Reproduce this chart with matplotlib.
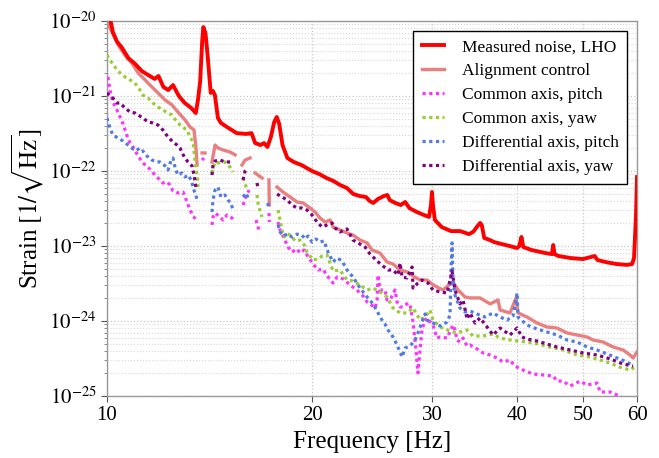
import numpy as np
import matplotlib
matplotlib.use("Agg")
import matplotlib.pyplot as plt
from matplotlib.ticker import FixedLocator, FixedFormatter, NullLocator, NullFormatter

plt.rcParams['font.family'] = ['Liberation Serif', 'DejaVu Serif']
plt.rcParams['mathtext.fontset'] = 'stix'

G = None  # gap in a trace

# ---------------- data ----------------
freq_lho = [10.0, 10.1, 10.2, 10.35, 10.5, 10.75, 11.0, 11.25, 11.5, 11.75, 11.9, 12.1, 12.3, 12.5, 12.75,
            13.0, 13.3, 13.5, 13.6, 13.7, 13.8, 13.85, 13.95, 14.05, 14.2, 14.3, 14.4, 14.55, 14.7, 15.0,
            15.5, 16.0, 16.3, 16.5, 16.8, 17.0, 17.2, 17.4, 17.6, 17.75, 17.9, 18.1, 18.4, 18.8, 19.3,
            20.0, 20.5, 21.0, 21.5, 22.0, 22.5, 23.0, 23.5, 24.0, 24.3, 24.6, 25.0, 25.5, 25.8, 26.0,
            26.5, 27.0, 27.4, 27.8, 28.5, 29.2, 29.7, 29.9, 30.0, 30.1, 30.3, 31.0, 32.0, 33.0, 34.0,
            34.5, 35.0, 35.3, 35.5, 35.8, 36.5, 37.0, 38.0, 39.0, 40.0, 40.3, 40.6, 40.85, 42.0, 44.0,
            45.0, 45.2, 45.4, 46.0, 48.0, 50.0, 52.0, 52.5, 54.0, 56.0, 58.0, 59.0, 59.4, 59.8, 60.0]
asd_lho = [1.32e-20, 1.1e-20, 7.1e-21, 5.25e-21, 4.5e-21, 3.2e-21, 2.67e-21, 2.15e-21, 1.9e-21, 1.69e-21,
           1.85e-21, 1.32e-21, 1.2e-21, 1.4e-21, 1.0e-21, 8.1e-22, 6.9e-22, 5.93e-22, 8.84e-22, 1.54e-21,
           5.58e-21, 8.3e-21, 6.9e-21, 3.5e-21, 1.1e-21, 1.17e-21, 1.03e-21, 5.1e-22, 4.37e-22, 3.86e-22,
           3.2e-22, 3.12e-22, 3.2e-22, 2.36e-22, 2.22e-22, 2.36e-22, 2.09e-22, 2.84e-22, 4.5e-22, 5.25e-22,
           4.24e-22, 2.22e-22, 1.49e-22, 1.32e-22, 1.2e-22, 1.0e-22, 9.1e-23, 8.06e-23, 7.36e-23, 6.5e-23,
           5.93e-23, 4.93e-23, 4.64e-23, 4.5e-23, 3.98e-23, 3.75e-23, 4.24e-23, 4.64e-23, 4.79e-23, 4.1e-23,
           3.75e-23, 3.52e-23, 3.86e-23, 3.2e-23, 2.84e-23, 2.59e-23, 2.44e-23, 3.52e-23, 5.25e-23, 3.52e-23,
           2.22e-23, 1.79e-23, 1.58e-23, 1.58e-23, 1.44e-23, 1.55e-23, 1.85e-23, 2.03e-23, 1.9e-23, 1.28e-23,
           1.2e-23, 1.13e-23, 1.06e-23, 1.0e-23, 9.4e-24, 1.0e-23, 1.32e-23, 9.7e-24, 8.84e-24, 8.06e-24,
           7.8e-24, 1.03e-23, 7.8e-24, 7.36e-24, 6.9e-24, 6.7e-24, 7.36e-24, 6.5e-24, 6.1e-24, 5.75e-24,
           5.6e-24, 5.75e-24, 6.9e-24, 2.6e-23, 8.3e-23]

freq_align = [10.0, 10.17, 10.34, 10.45, 10.70, 10.88, 11.11, 11.37, 11.64, 11.88, 12.17, 12.46, 12.71,
              13.02, 13.24, 13.42, 13.51, 13.56, 13.7, 13.79, 13.93, 14.1, 14.26, 14.41, 14.55, 14.80,
              15.16, 15.42, 15.6, 15.78, 15.95, 16.22, 16.4, 16.50, 16.66, 16.89, 17.1, 17.29, 17.31,
              17.5, 17.77, 18.13, 18.57, 19.01, 19.40, 19.87, 20.20, 20.55, 20.90, 21.26, 21.47, 21.98,
              22.51, 22.97, 23.52, 24.09, 24.50, 25.17, 25.77, 26.30, 26.93, 27.58, 28.14, 28.81, 29.50,
              30.00, 30.51, 31.14, 31.89, 32.21, 32.76, 33.55, 34.12, 35.29, 36.51, 37.51, 37.76, 39.06,
              39.86, 40.13, 41.37, 42.79, 44.26, 45.78, 47.36, 49.00, 50.68, 51.72, 53.50, 55.34, 57.24,
              58.61, 59.20, 60.0]
asd_align = [9.70e-21, 7.14e-21, 5.25e-21, 4.37e-21, 3.21e-21, 2.75e-21, 2.03e-21, 1.64e-21, 1.32e-21,
             1.10e-21, 8.84e-22, 7.59e-22, 6.12e-22, 4.79e-22, 3.86e-22, 3.52e-22, 2.03e-22, 1.20e-22, G,
             1.74e-22, 1.74e-22, G, 1.32e-22, 2.22e-22, 2.03e-22, 1.91e-22, 1.79e-22, 1.64e-22, G,
             1.20e-22, 1.40e-22, 1.49e-22, G, 9.40e-23, 8.84e-23, 8.06e-23, G, 7.59e-23, 3.52e-23, G,
             6.12e-23, 5.25e-23, 4.50e-23, 3.86e-23, 3.75e-23, 3.21e-23, 2.84e-23, 2.36e-23, 2.09e-23,
             2.22e-23, 1.79e-23, 1.64e-23, 1.49e-23, 1.40e-23, 1.20e-23, 1.10e-23, 8.84e-24, 8.06e-24,
             6.12e-24, 5.75e-24, 4.79e-24, 4.50e-24, 3.98e-24, 3.52e-24, 3.52e-24, 3.12e-24, 2.84e-24,
             2.59e-24, 3.12e-24, 3.31e-24, 2.59e-24, 2.09e-24, 2.03e-24, 2.03e-24, 1.69e-24, 1.91e-24,
             1.40e-24, 1.28e-24, 2.03e-24, 1.28e-24, 1.13e-24, 9.40e-25, 8.32e-25, 8.06e-25, 6.92e-25,
             6.51e-25, 6.12e-25, 5.58e-25, 5.25e-25, 4.50e-25, 4.11e-25, 3.52e-25, 3.21e-25, 3.86e-25]

freq_cp = [10.03, 10.10, 10.20, 10.34, 10.45, 10.56, 10.70, 10.81, 10.92, 11.11, 11.29, 11.56, 11.76,
           11.96, 12.08, 12.25, 12.37, 12.50, 12.71, 12.93, 13.11, 13.24, 13.38, 13.56, 13.7, 13.79,
           13.88, 14.1, 14.26, 14.31, 14.41, 14.65, 14.80, 15.00, 15.26, 15.36, 15.6, 15.84, 16.00,
           16.17, 16.4, 16.55, 16.66, 16.78, 17.0, 17.29, 17.31, 17.6, 17.83, 17.95, 18.13, 18.44,
           18.69, 19.01, 19.20, 19.47, 19.66, 20.07, 20.42, 20.76, 21.04, 21.26, 21.47, 21.77, 22.22,
           22.75, 23.28, 23.77, 24.09, 24.33, 24.75, 24.92, 25.00, 25.17, 25.59, 25.77, 26.04, 26.48,
           26.66, 26.93, 27.21, 27.67, 27.86, 28.14, 28.42, 28.61, 28.81, 29.00, 29.30, 29.50, 30.10,
           30.51, 30.83, 31.57, 32.21, 32.43, 32.65, 32.98, 33.32, 33.78, 34.12, 34.93, 35.65, 36.51,
           37.38, 38.15, 39.06, 39.70, 40.81, 42.22, 43.68, 45.19, 45.78, 46.74, 47.86, 49.50, 50.68,
           52.42, 52.96, 54.80, 56.11, 57.24]
asd_cp = [1.79e-21, 1.20e-21, 8.32e-22, 6.51e-22, 5.25e-22, 4.24e-22, 2.93e-22, 2.36e-22, 2.09e-22,
          1.58e-22, 1.28e-22, 1.06e-22, 8.84e-23, 7.59e-23, 6.92e-23, 7.14e-23, 6.51e-23, 5.41e-23,
          5.09e-23, 5.25e-23, 3.86e-23, 3.02e-23, 2.51e-23, 2.15e-23, G, 1.40e-22, 1.49e-22, G,
          1.91e-23, 2.44e-23, 2.75e-23, 2.44e-23, 2.22e-23, 2.59e-23, 2.36e-23, 2.15e-23, G, 3.52e-23,
          4.64e-23, 5.58e-23, G, 2.22e-23, 1.79e-23, 1.54e-23, G, 2.75e-23, 2.09e-23, G, 2.09e-23,
          1.64e-23, 1.36e-23, 9.70e-24, 8.32e-24, 9.12e-24, 8.06e-24, 8.84e-24, 7.59e-24, 5.75e-24,
          4.79e-24, 4.93e-24, 3.98e-24, 3.63e-24, 3.21e-24, 3.86e-24, 3.63e-24, 3.02e-24, 2.59e-24,
          2.15e-24, 1.79e-24, 1.69e-24, 1.49e-24, 1.91e-24, 4.11e-24, 2.59e-24, 2.59e-24, 1.91e-24,
          1.91e-24, 2.59e-24, 1.79e-24, 1.54e-24, 1.54e-24, 1.74e-24, 1.64e-24, 9.70e-25, 4.11e-25,
          2.03e-25, 4.11e-25, 7.59e-25, 1.03e-24, 1.10e-24, 8.84e-25, 5.93e-25, 6.12e-25, 5.93e-25,
          8.84e-25, 7.59e-25, 5.58e-25, 5.25e-25, 5.93e-25, 4.64e-25, 4.79e-25, 4.24e-25, 3.75e-25,
          3.52e-25, 3.21e-25, 2.84e-25, 3.02e-25, 2.51e-25, 2.22e-25, 1.96e-25, 1.91e-25, 1.85e-25,
          1.58e-25, 1.58e-25, 1.36e-25, 1.58e-25, 1.40e-25, 1.49e-25, 1.13e-25, 1.13e-25, 1.03e-25,
          9.4e-26]

freq_cy = [10.0, 10.10, 10.27, 10.45, 10.63, 10.81, 10.99, 11.18, 11.29, 11.49, 11.68, 11.88, 12.08,
           12.29, 12.46, 12.67, 12.89, 13.11, 13.24, 13.38, 13.47, 13.56, 13.60, 13.9, 14.26, 14.31,
           14.41, 14.55, 14.90, 15.16, 15.31, 15.6, 15.84, 15.95, 16.06, 16.3, 16.60, 16.66, 16.78,
           16.89, 17.4, 17.83, 17.95, 18.07, 18.20, 18.39, 18.69, 18.88, 19.20, 19.53, 19.66, 20.07,
           20.42, 20.69, 21.04, 21.26, 21.47, 21.98, 22.51, 22.97, 23.52, 24.09, 24.58, 25.17, 25.77,
           26.30, 26.93, 27.58, 28.14, 28.81, 29.30, 29.80, 30.10, 30.83, 31.89, 32.65, 33.32, 33.78,
           34.47, 35.65, 36.88, 37.76, 39.06, 40.13, 41.37, 43.08, 44.57, 46.74, 49.00, 51.20, 52.96,
           54.80, 56.47, 58.61, 59.60]
asd_cy = [3.52e-21, 3.02e-21, 2.44e-21, 2.03e-21, 1.79e-21, 1.64e-21, 1.49e-21, 1.20e-21, 1.03e-21,
          9.40e-22, 8.06e-22, 7.14e-22, 6.51e-22, 5.93e-22, 5.58e-22, 4.50e-22, 3.86e-22, 3.52e-22,
          2.84e-22, 2.44e-22, 1.32e-22, 8.84e-23, 6.12e-23, G, 9.40e-23, 1.10e-22, 1.32e-22, 1.28e-22,
          1.32e-22, 1.13e-22, 9.70e-23, G, 8.06e-23, 6.71e-23, 5.58e-23, G, 4.79e-23, 3.75e-23,
          2.93e-23, 2.44e-23, G, 3.02e-23, 2.22e-23, 1.64e-23, 1.32e-23, 1.49e-23, 1.32e-23, 1.17e-23,
          1.20e-23, 1.00e-23, 8.32e-24, 6.51e-24, 6.71e-24, 7.36e-24, 7.59e-24, 5.93e-24, 4.64e-24,
          4.79e-24, 3.52e-24, 3.41e-24, 3.02e-24, 2.59e-24, 2.75e-24, 2.44e-24, 2.09e-24, 1.49e-24,
          1.28e-24, 1.28e-24, 1.49e-24, 1.03e-24, 1.13e-24, 1.40e-24, 1.03e-24, 8.32e-25, 7.36e-25,
          6.92e-25, 7.36e-25, 7.59e-25, 6.31e-25, 6.31e-25, 6.71e-25, 5.93e-25, 5.58e-25, 5.41e-25,
          5.25e-25, 4.93e-25, 4.50e-25, 4.11e-25, 3.52e-25, 3.31e-25, 3.02e-25, 2.75e-25, 2.44e-25,
          2.22e-25, 2.44e-25]

freq_dp = [10.0, 10.10, 10.20, 10.38, 10.56, 10.74, 10.92, 11.07, 11.18, 11.29, 11.45, 11.64, 11.84,
           11.96, 12.17, 12.29, 12.42, 12.50, 12.59, 12.71, 12.89, 13.02, 13.15, 13.29, 13.38, 13.47,
           13.56, 13.9, 14.26, 14.31, 14.41, 14.55, 14.70, 14.90, 15.05, 15.20, 15.31, 15.6, 15.84,
           16.00, 16.11, 16.7, 17.23, 17.25, 17.5, 17.83, 17.95, 18.13, 18.39, 18.69, 19.01, 19.33,
           19.53, 19.73, 20.00, 20.27, 20.55, 20.83, 21.11, 21.47, 21.77, 22.14, 22.51, 22.97, 23.52,
           24.09, 24.58, 25.00, 25.33, 25.59, 25.86, 26.30, 26.66, 26.93, 27.12, 27.40, 27.86, 28.33,
           28.61, 29.00, 29.30, 29.60, 30.10, 30.83, 31.57, 31.89, 32.00, 32.11, 32.21, 32.43, 32.98,
           33.55, 34.12, 34.93, 35.89, 36.88, 37.76, 38.67, 39.46, 39.86, 40.00, 40.13, 41.37, 42.79,
           44.26, 45.78, 47.36, 49.00, 50.68, 52.42, 54.24, 56.11, 58.02, 59.20]
asd_dp = [5.09e-22, 3.75e-22, 3.02e-22, 2.75e-22, 2.51e-22, 2.22e-22, 1.96e-22, 2.03e-22, 1.79e-22,
          1.85e-22, 1.58e-22, 1.40e-22, 1.32e-22, 1.32e-22, 1.17e-22, 1.03e-22, 1.40e-22, 1.49e-22,
          1.10e-22, 8.84e-23, 9.40e-23, 8.32e-23, 8.84e-23, 7.59e-23, 6.12e-23, 4.93e-23, 4.24e-23, G,
          2.84e-23, 4.11e-23, 5.58e-23, 6.12e-23, 4.50e-23, 4.79e-23, 4.11e-23, 3.75e-23, 3.02e-23, G,
          4.50e-23, 5.09e-23, 4.37e-23, G, 3.75e-23, 3.31e-23, G, 1.91e-23, 1.54e-23, 1.36e-23,
          1.44e-23, 1.32e-23, 1.44e-23, 1.40e-23, 1.24e-23, 1.36e-23, 1.13e-23, 1.24e-23, 1.13e-23,
          1.17e-23, 8.32e-24, 6.12e-24, 6.92e-24, 6.31e-24, 4.79e-24, 3.86e-24, 2.75e-24, 2.09e-24,
          1.69e-24, 1.28e-24, 1.03e-24, 9.12e-25, 7.59e-25, 6.12e-25, 4.79e-25, 3.86e-25, 3.31e-25,
          4.37e-25, 4.64e-25, 5.58e-25, 6.92e-25, 9.70e-25, 1.24e-24, 1.00e-24, 9.40e-25, 8.58e-25,
          9.70e-25, 1.20e-24, 4.79e-24, 1.10e-23, 3.52e-24, 2.22e-24, 1.49e-24, 1.32e-24, 1.36e-24,
          1.24e-24, 1.13e-24, 1.28e-24, 1.13e-24, 1.03e-24, 1.17e-24, 1.91e-24, 2.36e-24, 1.13e-24,
          8.84e-25, 7.82e-25, 7.14e-25, 6.51e-25, 5.58e-25, 5.25e-25, 4.50e-25, 4.11e-25, 3.63e-25,
          3.21e-25, 2.84e-25, 2.51e-25]

freq_dy = [10.0, 10.10, 10.20, 10.34, 10.45, 10.63, 10.81, 10.99, 11.11, 11.29, 11.49, 11.68, 11.88,
           12.08, 12.29, 12.50, 12.67, 12.80, 12.89, 13.02, 13.15, 13.33, 13.42, 13.47, 13.51, 13.9,
           14.26, 14.31, 14.41, 14.65, 14.90, 15.16, 15.5, 15.84, 15.95, 16.06, 16.3, 16.60, 16.66,
           17.2, 17.77, 18.07, 18.39, 18.69, 19.01, 19.33, 19.66, 20.00, 20.34, 20.69, 21.04, 21.40,
           21.62, 21.98, 22.51, 22.97, 23.52, 23.93, 24.33, 24.92, 25.42, 25.86, 26.30, 26.75, 26.93,
           27.12, 27.58, 28.05, 28.14, 28.61, 29.00, 29.60, 30.10, 30.83, 31.57, 32.11, 32.43, 32.98,
           33.32, 33.78, 34.12, 34.70, 35.29, 36.14, 36.88, 37.76, 39.06, 40.00, 40.67, 41.37, 42.79,
           44.26, 45.78, 47.86, 50.00, 52.42, 54.80, 57.24, 59.20]
asd_dy = [1.10e-21, 1.00e-21, 9.40e-22, 8.06e-22, 8.06e-22, 6.92e-22, 6.12e-22, 5.93e-22, 5.58e-22,
          5.09e-22, 4.50e-22, 4.37e-22, 4.11e-22, 3.52e-22, 2.84e-22, 2.44e-22, 2.22e-22, 2.03e-22,
          1.74e-22, 1.49e-22, 1.32e-22, 1.17e-22, 8.84e-23, 7.14e-23, 5.93e-23, G, 8.84e-23, 1.20e-22,
          1.36e-22, 1.40e-22, 1.32e-22, 1.32e-22, G, 7.59e-23, 1.00e-22, 1.10e-22, G, 6.92e-23,
          6.12e-23, G, 4.93e-23, 4.50e-23, 4.11e-23, 3.52e-23, 3.21e-23, 3.21e-23, 3.02e-23, 2.59e-23,
          2.09e-23, 1.79e-23, 1.91e-23, 2.03e-23, 1.74e-23, 1.54e-23, 1.69e-23, 1.20e-23, 1.06e-23,
          9.70e-24, 7.82e-24, 6.31e-24, 5.41e-24, 4.79e-24, 4.79e-24, 4.11e-24, 5.93e-24, 3.86e-24,
          3.75e-24, 5.25e-24, 2.75e-24, 3.21e-24, 3.52e-24, 3.21e-24, 2.59e-24, 2.44e-24, 2.36e-24,
          4.64e-24, 2.59e-24, 1.69e-24, 1.91e-24, 1.06e-24, 1.28e-24, 9.40e-25, 1.10e-24, 8.32e-25,
          6.51e-25, 8.06e-25, 6.51e-25, 8.06e-25, 6.12e-25, 5.75e-25, 5.41e-25, 4.93e-25, 4.50e-25,
          4.11e-25, 3.75e-25, 3.52e-25, 3.12e-25, 2.67e-25, 2.51e-25]

labels = ["Measured noise, LHO", "Alignment control", "Common axis, pitch",
          "Common axis, yaw", "Differential axis, pitch", "Differential axis, yaw"]
x_ticks = [10, 20, 30, 40, 50, 60]
y_exponents = [-25, -24, -23, -22, -21, -20]

# ---------------- figure ----------------
W, H = 659, 458
fig = plt.figure(figsize=(W / 100, H / 100), dpi=100)
ax = fig.add_axes([107 / W, 1 - 396 / H, 530 / W, 375 / H])

def arr(v):
    return np.array(v, dtype=float)

dot = (0, (1.0, 1.1))
h_lho, = ax.plot(arr(freq_lho), arr(asd_lho), color='#ff0000', lw=2.8, zorder=5)
h_al, = ax.plot(arr(freq_align), arr(asd_align), color='#e88080', lw=2.4, zorder=2)
h_cp, = ax.plot(arr(freq_cp), arr(asd_cp), color='#ff33ff', lw=2.3, ls=dot, zorder=3)
h_cy, = ax.plot(arr(freq_cy), arr(asd_cy), color='#9acd32', lw=2.3, ls=dot, zorder=3)
h_dp, = ax.plot(arr(freq_dp), arr(asd_dp), color='#4f7be3', lw=2.3, ls=dot, zorder=3)
h_dy, = ax.plot(arr(freq_dy), arr(asd_dy), color='#800080', lw=2.3, ls=dot, zorder=4)

ax.set_xscale('log')
ax.set_yscale('log')
ax.set_xlim(10, 60)
ax.set_ylim(1e-25, 1e-20)

ax.xaxis.set_major_locator(FixedLocator(x_ticks))
ax.xaxis.set_major_formatter(FixedFormatter([str(t) for t in x_ticks]))
ax.xaxis.set_minor_locator(NullLocator())

y_major = [10.0 ** e for e in y_exponents]
ax.yaxis.set_major_locator(FixedLocator(y_major))
ax.yaxis.set_major_formatter(FixedFormatter([r'$10^{%d}$' % e for e in y_exponents]))
y_minor = [m * 10.0 ** e for e in y_exponents[:-1] for m in range(2, 10)]
ax.yaxis.set_minor_locator(FixedLocator(y_minor))
ax.yaxis.set_minor_formatter(NullFormatter())

ax.grid(True, which='major', axis='both', ls=':', color='#c8c8c8', lw=0.9)
ax.grid(True, which='minor', axis='y', ls=':', color='#d8d8d8', lw=0.8)
ax.set_axisbelow(True)

for s in ax.spines.values():
    s.set_color('#999999')
    s.set_linewidth(1.0)
ax.tick_params(axis='both', which='major', labelsize=15, color='#555555', length=4)
ax.tick_params(axis='y', which='minor', color='#777777', length=2.5)

ax.set_xlabel('Frequency [Hz]', fontsize=18, labelpad=4)
ax.set_ylabel(r'Strain $[1/\sqrt{\mathrm{Hz}}]$', fontsize=18, labelpad=2)

leg = ax.legend([h_lho, h_al, h_cp, h_cy, h_dp, h_dy], labels, loc='upper right',
                fontsize=12.5, frameon=True, fancybox=False, edgecolor='black', framealpha=1,
                borderaxespad=0.55, handlelength=1.3, handletextpad=1.0, labelspacing=0.45,
                borderpad=0.5)
leg.get_frame().set_linewidth(1.0)

fig.savefig('out.png', dpi=100)
